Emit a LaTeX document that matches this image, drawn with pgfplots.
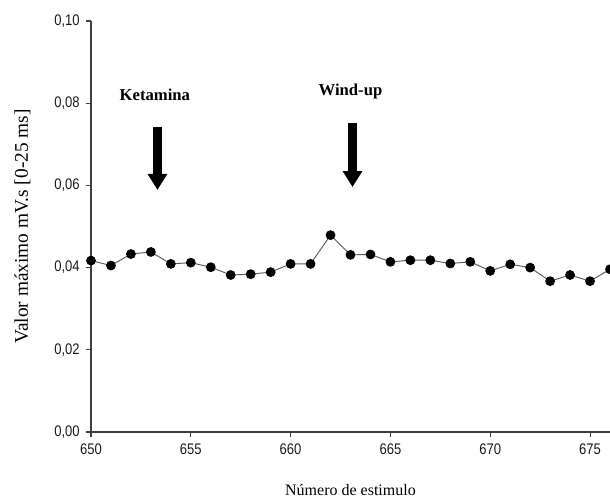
\documentclass[border=0pt]{standalone}
\usepackage{fontspec}
\setmainfont{Liberation Serif}
\newfontfamily\ticksfont[FakeStretch=0.85]{Liberation Sans}
\usepackage{pgfplots}
\pgfplotsset{compat=1.18}
\usetikzlibrary{arrows.meta}
\begin{document}
\begin{tikzpicture}
\begin{axis}[
  scale only axis,
  width=389.25pt, height=308.25pt,
  xmin=650, xmax=676, ymin=0, ymax=0.1,
  axis lines=left,
  axis line style={-, draw=black!75, line width=0.8pt},
  xtick={650,655,...,675},
  ytick={0,0.02,...,0.1},
  tick align=outside,
  major tick length=4pt,
  tick style={draw=black!75, line width=0.8pt},
  scaled y ticks=false,
  yticklabel style={xshift=-1pt, /pgf/number format/.cd, fixed, fixed zerofill, precision=2, use comma},
  /pgf/number format/assume math mode=true,
  tick label style={font=\ticksfont\fontsize{11.5}{12}\selectfont, text=black!90},
  xticklabel style={yshift=-1pt},
  xlabel={Número de estimulo},
  ylabel={Valor máximo mV.s [0-25 ms]},
  xlabel style={font=\fontsize{12}{14}\selectfont, yshift=-15.5pt},
  ylabel style={font=\fontsize{14.5}{16}\selectfont, yshift=11pt},
  clip mode=individual,
]
\addplot[draw=black!65, line width=0.7pt, mark=*, mark size=3.3pt, mark options={draw=black, fill=black}]
coordinates {
(650,0.0417)(651,0.0405)(652,0.0433)(653,0.0438)(654,0.0409)(655,0.0412)
(656,0.0401)(657,0.0382)(658,0.0384)(659,0.0389)(660,0.0409)(661,0.0409)
(662,0.0479)(663,0.0431)(664,0.0432)(665,0.0414)(666,0.0418)(667,0.0418)
(668,0.0410)(669,0.0414)(670,0.0392)(671,0.0408)(672,0.0400)(673,0.0367)
(674,0.0382)(675,0.0367)(676,0.0396)
};
\draw[line width=7pt, -{Triangle[width=14pt,length=12pt]}] (axis cs:653.33,0.0743) -- (axis cs:653.33,0.0589);
\draw[line width=7pt, -{Triangle[width=14pt,length=12pt]}] (axis cs:663.1,0.0753) -- (axis cs:663.1,0.0596);
\node[font=\bfseries\fontsize{12.5}{14}\selectfont] at (axis cs:653.2,0.0820) {Ketamina};
\node[font=\bfseries\fontsize{12.5}{14}\selectfont] at (axis cs:663.0,0.0828) {Wind-up};
\coordinate (ll) at (rel axis cs:0,0);
\coordinate (ur) at (rel axis cs:1,1);
\end{axis}
\pgfresetboundingbox
\path ([xshift=-68.25pt,yshift=-50.25pt]ll) rectangle ([yshift=15.75pt]ur);
\end{tikzpicture}
\end{document}
